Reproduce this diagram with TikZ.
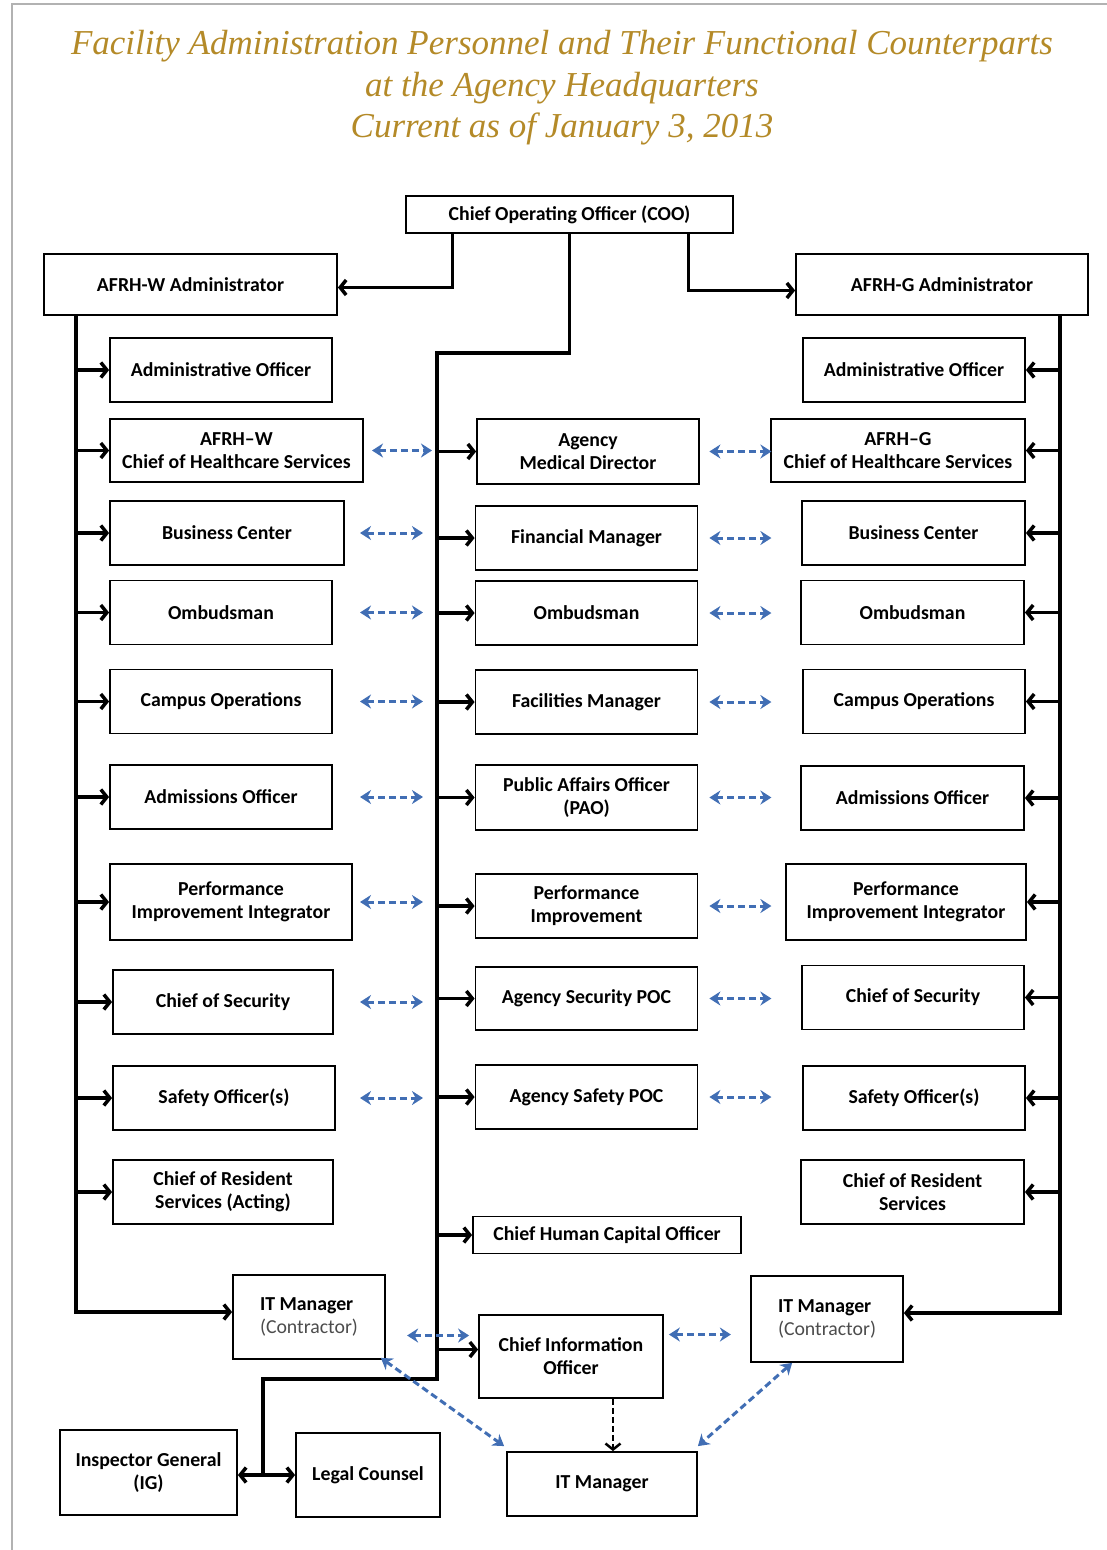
\documentclass[tikz,border=0pt]{standalone}
\usepackage{fontspec}
\setmainfont{Carlito}
\newfontfamily\titlefont{Liberation Serif}
\usepackage{tikz}
\usetikzlibrary{arrows.meta}
\definecolor{title-gold}{RGB}{180,138,40}
\definecolor{peer-blue}{RGB}{65,110,180}
\tikzset{
    org-box/.style = {draw, line width=1.8pt, rectangle, align=center, inner sep=2pt, font=\bfseries\fontsize{19.8}{23}\selectfont},
    side-box/.style = {org-box, minimum width=222pt, minimum height=64pt},
    mid-box/.style = {org-box, minimum width=222pt, minimum height=64pt},
    org-line/.style = {line width=3.5pt},
    org-arrow/.style = {org-line, -{Straight Barb[length=6pt,width=15pt]}},
    org-both/.style = {org-line, {Straight Barb[length=6pt,width=15pt]}-{Straight Barb[length=6pt,width=15pt]}},
    peer-link/.style = {peer-blue, line width=3pt, dash pattern=on 7pt off 4pt, {Stealth[length=11pt,width=14pt]}-{Stealth[length=11pt,width=14pt]}},
}

\begin{document}
\begin{tikzpicture}[x=1pt, y=-1pt]
\useasboundingbox (0,0) rectangle (1107,1550);
\draw[gray!60, line width=2pt] (1107,4) -- (12,4) -- (12,1550);

\node[font=\titlefont\itshape\fontsize{35}{41.5}\selectfont, text=title-gold, align=center] (title) at (562,88)
    {Facility Administration Personnel and Their Functional Counterparts\\at the Agency Headquarters\\Current as of January 3, 2013};

% top of the chart
\node[org-box, minimum width=327pt, minimum height=37pt] (coo) at (569.5,214.5) {Chief Operating Officer (COO)};
\node[org-box, minimum width=293pt, minimum height=61pt] (w-adm) at (190.5,284.5) {AFRH-W Administrator};
\node[org-box, minimum width=292pt, minimum height=61pt] (g-adm) at (942,284.5) {AFRH-G Administrator};

% AFRH-W column
\node[side-box] (w1) at (221,370) {Administrative Officer};
\node[side-box, minimum width=253pt, minimum height=63pt] (w2) at (236.5,450.5) {AFRH--W\\Chief of Healthcare Services};
\node[side-box, minimum width=234pt] (w3) at (227,533) {Business Center};
\node[side-box] (w4) at (221,612.5) {Ombudsman};
\node[side-box] (w5) at (221,701.5) {Campus Operations};
\node[side-box] (w6) at (221,797) {Admissions Officer};
\node[side-box, minimum width=242pt, minimum height=76pt] (w7) at (231,902) {Performance\\Improvement Integrator};
\node[side-box, minimum width=220pt] (w8) at (223,1002) {Chief of Security};
\node[side-box] (w9) at (224,1098) {Safety Officer(s)};
\node[side-box, minimum width=220pt] (w10) at (223,1192) {Chief of Resident\\Services (Acting)};

% agency column
\node[mid-box, minimum height=65pt] (m2) at (588,451.5) {Agency\\Medical Director};
\node[mid-box] (m3) at (586.5,538) {Financial Manager};
\node[mid-box] (m4) at (586.5,613) {Ombudsman};
\node[mid-box] (m5) at (586.5,702) {Facilities Manager};
\node[mid-box, minimum height=65pt] (m6) at (586.5,797.5) {Public Affairs Officer\\(PAO)};
\node[mid-box] (m7) at (586.5,906) {Performance\\Improvement};
\node[mid-box, minimum height=63pt] (m8) at (586.5,998.5) {Agency Security POC};
\node[mid-box] (m9) at (586.5,1097) {Agency Safety POC};
\node[org-box, minimum width=268pt, minimum height=37pt] (chco) at (607,1235) {Chief Human Capital Officer};

% AFRH-G column
\node[side-box] (g1) at (914,370) {Administrative Officer};
\node[side-box, minimum width=254pt, minimum height=63pt] (g2) at (898,450.5) {AFRH--G\\Chief of Healthcare Services};
\node[side-box, minimum width=223pt] (g3) at (913.5,533) {Business Center};
\node[side-box, minimum width=223pt] (g4) at (912.5,612.5) {Ombudsman};
\node[side-box] (g5) at (914,701.5) {Campus Operations};
\node[side-box, minimum width=223pt] (g6) at (912.5,798) {Admissions Officer};
\node[side-box, minimum width=240pt, minimum height=76pt] (g7) at (906,902) {Performance\\Improvement Integrator};
\node[side-box] (g8) at (913,997.5) {Chief of Security};
\node[side-box] (g9) at (914,1098) {Safety Officer(s)};
\node[side-box, minimum width=223pt] (g10) at (912.5,1192) {Chief of Resident\\Services};

% IT and bottom row
\node[org-box, minimum width=152pt, minimum height=84pt, align=left] (w-it) at (309,1317) {IT Manager\\{\mdseries\color{black!70}(Contractor)}};
\node[org-box, minimum width=152pt, minimum height=86pt, align=left] (g-it) at (827,1319) {IT Manager\\{\mdseries\color{black!70}(Contractor)}};
\node[org-box, minimum width=184pt, minimum height=83pt] (cio) at (571,1356.5) {Chief Information\\Officer};
\node[org-box, minimum width=190pt, minimum height=64pt] (it) at (602,1484) {IT Manager};
\node[org-box, minimum width=177pt, minimum height=85pt] (ig) at (148.5,1472.5) {Inspector General\\(IG)};
\node[org-box, minimum width=144pt, minimum height=84pt] (legal) at (368,1475) {Legal Counsel};

\coordinate (w-bus) at ([xshift=33pt]w-adm.south west);
\coordinate (g-bus) at ([xshift=-29pt]g-adm.south east);
\coordinate (spine) at (437,353);
\coordinate (knee) at (263,1379);
\coordinate (lp-a) at ([xshift=-77pt]spine);
\coordinate (lp-b) at ([xshift=-14pt]spine);
\coordinate (rp-a) at ([xshift=11pt]m3.east);
\coordinate (rp-b) at ([xshift=73pt]m3.east);
\coordinate (cio-tap) at ([xshift=42pt]cio.south);

% reporting lines
\draw[org-arrow] ([xshift=-117pt]coo.south) |- ([yshift=-3pt]w-adm.east);
\draw[org-arrow] ([xshift=119pt]coo.south) |- ([yshift=-6pt]g-adm.west);
\draw[org-line] (coo.south) |- (spine) -- (spine |- knee) -- (knee) -- (knee |- legal.west);
\draw[org-both] (ig.east |- legal.west) -- (legal.west);

\draw[org-arrow] (w-bus) |- ([yshift=5pt]w-it.west);
\draw[org-arrow] (w-bus |- w1.west) -- (w1.west);
\draw[org-arrow] (w-bus |- w2.west) -- (w2.west);
\draw[org-arrow] (w-bus |- w3.west) -- (w3.west);
\draw[org-arrow] (w-bus |- w4.west) -- (w4.west);
\draw[org-arrow] (w-bus |- w5.west) -- (w5.west);
\draw[org-arrow] (w-bus |- w6.west) -- (w6.west);
\draw[org-arrow] (w-bus |- w7.west) -- (w7.west);
\draw[org-arrow] (w-bus |- w8.west) -- (w8.west);
\draw[org-arrow] (w-bus |- w9.west) -- (w9.west);
\draw[org-arrow] (w-bus |- w10.west) -- (w10.west);

\draw[org-arrow] (spine |- m2.west) -- (m2.west);
\draw[org-arrow] (spine |- m3.west) -- (m3.west);
\draw[org-arrow] (spine |- m4.west) -- (m4.west);
\draw[org-arrow] (spine |- m5.west) -- (m5.west);
\draw[org-arrow] (spine |- m6.west) -- (m6.west);
\draw[org-arrow] (spine |- m7.west) -- (m7.west);
\draw[org-arrow] (spine |- m8.west) -- (m8.west);
\draw[org-arrow] (spine |- m9.west) -- (m9.west);
\draw[org-arrow] (spine |- chco.west) -- (chco.west);
\draw[org-arrow] (spine |- cio.west) ++(0,-7) -- ([yshift=7pt]cio.west);

\draw[org-arrow] (g-bus) |- ([yshift=6pt]g-it.east);
\draw[org-arrow] (g-bus |- g1.east) -- (g1.east);
\draw[org-arrow] (g-bus |- g2.east) -- (g2.east);
\draw[org-arrow] (g-bus |- g3.east) -- (g3.east);
\draw[org-arrow] (g-bus |- g4.east) -- (g4.east);
\draw[org-arrow] (g-bus |- g5.east) -- (g5.east);
\draw[org-arrow] (g-bus |- g6.east) -- (g6.east);
\draw[org-arrow] (g-bus |- g7.east) -- (g7.east);
\draw[org-arrow] (g-bus |- g8.east) -- (g8.east);
\draw[org-arrow] (g-bus |- g9.east) -- (g9.east);
\draw[org-arrow] (g-bus |- g10.east) -- (g10.east);

\draw[org-arrow, line width=2.5pt, dash pattern=on 6pt off 3pt] (cio-tap) -- (cio-tap |- it.north);

% functional counterparts
\draw[peer-link, shorten <=12pt, shorten >=-9pt] (lp-a |- w2.east) -- (lp-b |- w2.east);
\draw[peer-link] (lp-a |- w3.east) -- (lp-b |- w3.east);
\draw[peer-link] (lp-a |- w4.east) -- (lp-b |- w4.east);
\draw[peer-link] (lp-a |- w5.east) -- (lp-b |- w5.east);
\draw[peer-link] (lp-a |- w6.east) -- (lp-b |- w6.east);
\draw[peer-link] (lp-a |- w7.east) -- (lp-b |- w7.east);
\draw[peer-link] (lp-a |- w8.east) -- (lp-b |- w8.east);
\draw[peer-link] (lp-a |- w9.east) -- (lp-b |- w9.east);

\draw[peer-link] (rp-a |- m2.east) -- (rp-b |- m2.east);
\draw[peer-link] (rp-a |- m3.east) -- (rp-b |- m3.east);
\draw[peer-link] (rp-a |- m4.east) -- (rp-b |- m4.east);
\draw[peer-link] (rp-a |- m5.east) -- (rp-b |- m5.east);
\draw[peer-link] (rp-a |- m6.east) -- (rp-b |- m6.east);
\draw[peer-link] (rp-a |- m7.east) -- (rp-b |- m7.east);
\draw[peer-link] (rp-a |- m8.east) -- (rp-b |- m8.east);
\draw[peer-link] (rp-a |- m9.east) -- (rp-b |- m9.east);

\draw[peer-link] ([shift={(-71pt,21pt)}]cio.west) -- ([shift={(-9pt,21pt)}]cio.west);
\draw[peer-link] ([shift={(5pt,22pt)}]cio.east) -- ([shift={(67pt,22pt)}]cio.east);
\draw[peer-link] ([shift={(-5pt,2pt)}]w-it.south east) -- ([shift={(-2pt,5pt)}]it.north west);
\draw[peer-link] ([xshift=42pt]g-it.south west) -- ([yshift=5pt]it.north east);
\end{tikzpicture}
\end{document}
